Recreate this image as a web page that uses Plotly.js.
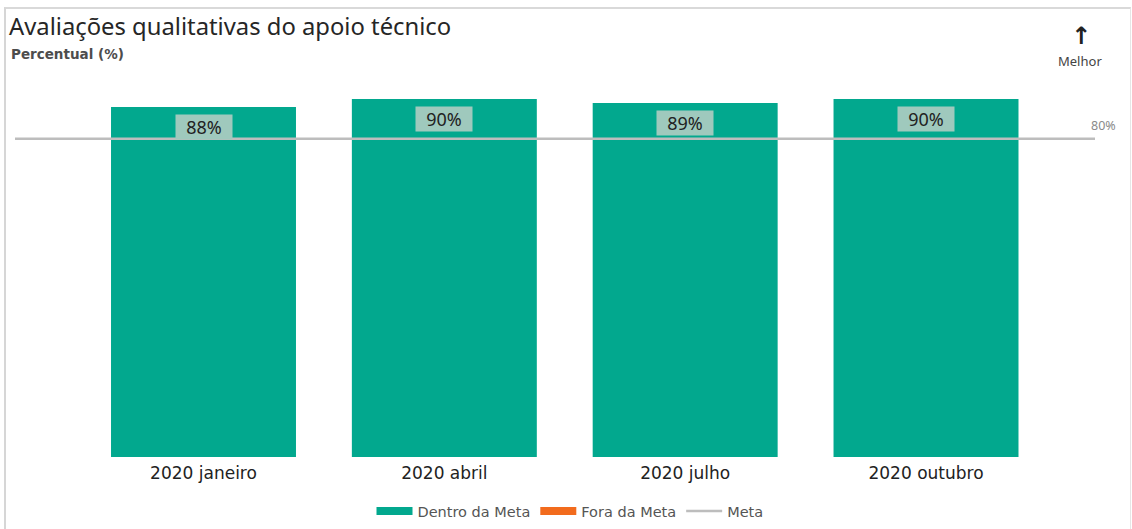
<!DOCTYPE html>
<html>
<head>
<meta charset="utf-8">
<script src="https://cdn.plot.ly/plotly-3.0.1.min.js"></script>
<style>
  html, body { margin: 0; padding: 0; background: #fff; }
  #frame { position: absolute; left: 4px; top: 7px; width: 1124px; height: 530px;
           border-left: 2px solid #d6d6d6; border-top: 2px solid #d9d9d9; border-right: 1px solid #e6e6e6; pointer-events: none; }
  #chart { width: 1132px; height: 529px; }
</style>
</head>
<body>
<div id="chart"></div>
<div id="frame"></div>
<script>
// ---- data ----
const categories = ["2020 janeiro", "2020 abril", "2020 julho", "2020 outubro"];
const values = [88, 90, 89, 90];
const META = 80;
const seriesNames = ["Dentro da Meta", "Fora da Meta", "Meta"];
const seriesColors = ["#02A88E", "#F26B1D", "#BDBDBD"];

// ---- derived ----
const dentro = values.map(v => v >= META ? v : null);
const fora = values.map(v => v < META ? v : null);
const FONT = "'Noto Sans', 'Open Sans', sans-serif";
const WIDE = "'DejaVu Sans', Verdana, sans-serif";

const traces = [
  { type: "bar", name: seriesNames[0], legendgroup: "d", showlegend: false,
    x: categories, y: dentro, marker: { color: seriesColors[0] } },
  { type: "bar", name: seriesNames[1], legendgroup: "f", showlegend: false,
    x: categories, y: fora, marker: { color: seriesColors[1] } },
  // legend swatches (wide rectangles like the reference)
  { type: "scatter", mode: "lines", name: seriesNames[0], legendgroup: "d",
    x: [null], y: [null], line: { color: seriesColors[0], width: 8 } },
  { type: "scatter", mode: "lines", name: seriesNames[1], legendgroup: "f",
    x: [null], y: [null], line: { color: seriesColors[1], width: 8 } },
  { type: "scatter", mode: "lines", name: seriesNames[2], xaxis: "x2",
    x: [0, 1], y: [META, META],
    line: { color: seriesColors[2], width: 2.5 } }
];

const annotations = values.map((v, i) => ({
  x: categories[i], y: v, xref: "x", yref: "y",
  yanchor: "top", yshift: -7, showarrow: false,
  text: v + "%", bgcolor: "#9FC9BD", borderpad: 2,
  width: 52, height: 20,
  font: { family: FONT, size: 18, color: "#222" }
}));

// paper: x 15..1095 px, y 457..80 px
const px = x => (x - 15) / 1080;
const py = y => (457 - y) / 377;

annotations.push(
  { xref: "paper", yref: "paper", x: px(9), y: py(54),
    xanchor: "left", yanchor: "middle", showarrow: false,
    text: "Percentual (%)", font: { family: WIDE, size: 13.5, color: "#4d4d4d", weight: 600 } },
  { xref: "paper", yref: "paper", x: px(1081), y: py(36),
    xanchor: "center", yanchor: "middle", showarrow: false,
    text: "<b>↑</b>", font: { family: "DejaVu Sans", size: 24, color: "#222" } },
  { xref: "paper", yref: "paper", x: px(1080), y: py(61),
    xanchor: "center", yanchor: "middle", showarrow: false,
    text: "Melhor", font: { family: FONT, size: 13, color: "#444" } },
  { xref: "paper", yref: "y", x: px(1103), y: META,
    xanchor: "center", yanchor: "bottom", yshift: 3, showarrow: false,
    text: META + "%", font: { family: FONT, size: 12.5, color: "#8a8a8a" } }
);

const layout = {
  width: 1132, height: 529,
  margin: { l: 15, r: 37, t: 80, b: 72 },
  paper_bgcolor: "#fff", plot_bgcolor: "#fff",
  barmode: "overlay", bargap: 0.232,
  title: { text: "Avaliações qualitativas do apoio técnico",
           xref: "container", yref: "container", x: 9 / 1132, y: 1 - 27 / 529,
           xanchor: "left", yanchor: "middle",
           font: { family: FONT, size: 23.8, color: "#262626" } },
  xaxis: { type: "category", range: [-0.7827, 3.7017], showgrid: false, zeroline: false,
           showline: false, ticks: "", fixedrange: true, ticklabelstandoff: 4,
           tickfont: { family: WIDE, size: 17, color: "#222" } },
  xaxis2: { overlaying: "x", range: [0, 1], visible: false, fixedrange: true },
  yaxis: { range: [0, 94.77], visible: false, showgrid: false, zeroline: false, fixedrange: true },
  showlegend: true,
  legend: { orientation: "h", xref: "container", yref: "container",
            x: 570 / 1132, y: 1 - 511 / 529, xanchor: "center", yanchor: "middle",
            font: { family: WIDE, size: 14.5, color: "#555" }, itemwidth: 36, traceorder: "normal" },
  annotations: annotations
};

Plotly.newPlot("chart", traces, layout, { displayModeBar: false, staticPlot: true });
</script>
</body>
</html>
